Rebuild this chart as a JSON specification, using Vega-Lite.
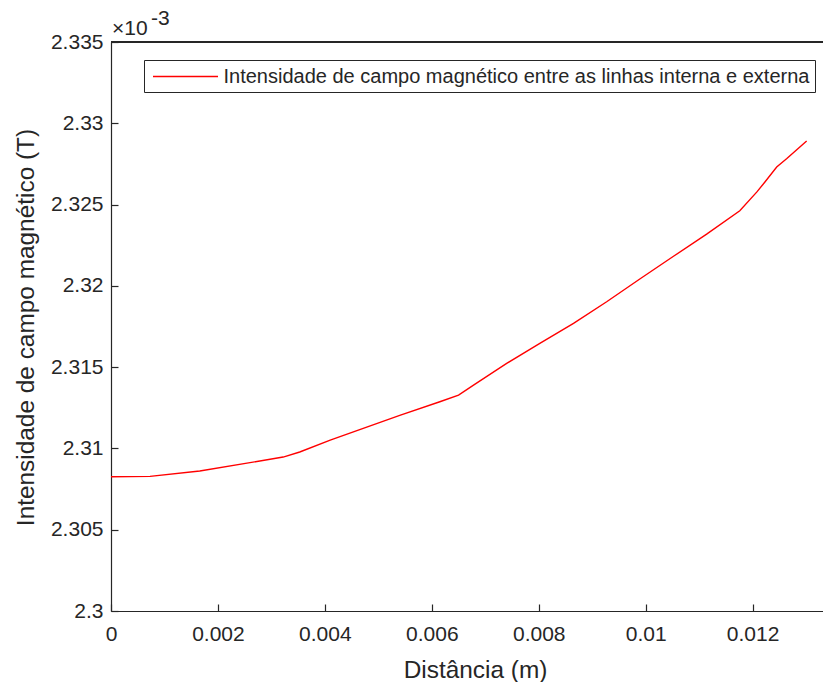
{
  "$schema": "https://vega.github.io/schema/vega-lite/v6.json",
  "autosize": {"type": "none"},
  "padding": {"left": 111, "top": 42, "right": 0, "bottom": 71},
  "width": 712,
  "height": 569,
  "background": "white",
  "config": {
    "view": {"stroke": null},
    "font": "Liberation Sans",
    "axis": {"grid": false, "domainColor": "#262626", "tickColor": "#262626", "labelColor": "#262626", "titleColor": "#262626", "labelFont": "Liberation Sans", "titleFont": "Liberation Sans", "labelFontSize": 21, "titleFontSize": 24.4, "titleFontWeight": "normal", "domainWidth": 1.2, "tickWidth": 1.2}
  },
  "datasets": {
    "curve": [
      {"x": 0, "y": 2.30826, "s": "Intensidade de campo magnético entre as linhas interna e externa"},
      {"x": 0.00073, "y": 2.30828, "s": "Intensidade de campo magnético entre as linhas interna e externa"},
      {"x": 0.00166, "y": 2.30861, "s": "Intensidade de campo magnético entre as linhas interna e externa"},
      {"x": 0.00322, "y": 2.30947, "s": "Intensidade de campo magnético entre as linhas interna e externa"},
      {"x": 0.00353, "y": 2.30978, "s": "Intensidade de campo magnético entre as linhas interna e externa"},
      {"x": 0.0041, "y": 2.31051, "s": "Intensidade de campo magnético entre as linhas interna e externa"},
      {"x": 0.0054, "y": 2.31203, "s": "Intensidade de campo magnético entre as linhas interna e externa"},
      {"x": 0.00615, "y": 2.31287, "s": "Intensidade de campo magnético entre as linhas interna e externa"},
      {"x": 0.0065, "y": 2.31328, "s": "Intensidade de campo magnético entre as linhas interna e externa"},
      {"x": 0.00678, "y": 2.31389, "s": "Intensidade de campo magnético entre as linhas interna e externa"},
      {"x": 0.0074, "y": 2.31523, "s": "Intensidade de campo magnético entre as linhas interna e externa"},
      {"x": 0.00802, "y": 2.31646, "s": "Intensidade de campo magnético entre as linhas interna e externa"},
      {"x": 0.00865, "y": 2.31769, "s": "Intensidade de campo magnético entre as linhas interna e externa"},
      {"x": 0.00927, "y": 2.31902, "s": "Intensidade de campo magnético entre as linhas interna e externa"},
      {"x": 0.00989, "y": 2.32042, "s": "Intensidade de campo magnético entre as linhas interna e externa"},
      {"x": 0.01052, "y": 2.32182, "s": "Intensidade de campo magnético entre as linhas interna e externa"},
      {"x": 0.01114, "y": 2.32318, "s": "Intensidade de campo magnético entre as linhas interna e externa"},
      {"x": 0.01176, "y": 2.32462, "s": "Intensidade de campo magnético entre as linhas interna e externa"},
      {"x": 0.01208, "y": 2.32578, "s": "Intensidade de campo magnético entre as linhas interna e externa"},
      {"x": 0.01223, "y": 2.32639, "s": "Intensidade de campo magnético entre as linhas interna e externa"},
      {"x": 0.01245, "y": 2.32731, "s": "Intensidade de campo magnético entre as linhas interna e externa"},
      {"x": 0.01264, "y": 2.32783, "s": "Intensidade de campo magnético entre as linhas interna e externa"},
      {"x": 0.01301, "y": 2.32891, "s": "Intensidade de campo magnético entre as linhas interna e externa"}
    ],
    "expo": [
      {"base": "×10", "exp": "-3"}
    ]
  },
  "layer": [
    {
      "data": {"name": "curve"},
      "mark": {"type": "line", "strokeWidth": 1.4, "clip": true},
      "encoding": {
        "x": {
          "field": "x", "type": "quantitative",
          "scale": {"domain": [0, 0.013316], "nice": false, "zero": false},
          "axis": {"values": [0, 0.002, 0.004, 0.006, 0.008, 0.01, 0.012], "format": "~g", "tickSize": -7, "labelPadding": 19, "title": "Distância (m)", "titleX": 364, "titleY": 66, "titleBaseline": "alphabetic", "titleAnchor": "start", "titleAlign": "center", "labelFlush": false, "labelOverlap": false}
        },
        "y": {
          "field": "y", "type": "quantitative",
          "scale": {"domain": [2.3, 2.335], "nice": false, "zero": false},
          "axis": {"values": [2.3, 2.305, 2.31, 2.315, 2.32, 2.325, 2.33, 2.335], "format": "~g", "tickSize": -7, "labelPadding": 15, "title": "Intensidade de campo magnético (T)", "titleX": -78, "titleY": 285, "titleBaseline": "alphabetic", "titleAngle": -90, "titleAlign": "center", "labelFlush": false, "labelOverlap": false}
        },
        "color": {
          "field": "s", "type": "nominal",
          "scale": {"range": ["#ff0000"]},
          "legend": {"orient": "none", "legendX": 33, "legendY": 18, "title": null, "strokeColor": "#262626", "fillColor": "white", "padding": 5.5, "symbolType": "M-3.25,0H3.25", "symbolSize": 400, "symbolStrokeWidth": 1.5, "symbolOffset": 25, "labelFontSize": 20, "labelFont": "Liberation Sans", "labelColor": "#262626", "labelOffset": 27, "labelLimit": 0}
        }
      }
    },
    {
      "data": {"name": "curve"},
      "mark": {"type": "rule", "color": "#262626", "strokeWidth": 1.2},
      "encoding": {
        "y": {"datum": 2.335, "type": "quantitative"}
      }
    },
    {
      "data": {"name": "expo"},
      "mark": {"type": "text", "align": "left", "baseline": "alphabetic", "fontSize": 21, "font": "Liberation Sans", "color": "#262626", "dx": 1, "dy": -7},
      "encoding": {
        "x": {"datum": 0, "type": "quantitative"},
        "y": {"datum": 2.335, "type": "quantitative"},
        "text": {"field": "base"}
      }
    },
    {
      "data": {"name": "expo"},
      "mark": {"type": "text", "align": "left", "baseline": "alphabetic", "fontSize": 21, "font": "Liberation Sans", "color": "#262626", "dx": 40, "dy": -17},
      "encoding": {
        "x": {"datum": 0, "type": "quantitative"},
        "y": {"datum": 2.335, "type": "quantitative"},
        "text": {"field": "exp"}
      }
    }
  ]
}
